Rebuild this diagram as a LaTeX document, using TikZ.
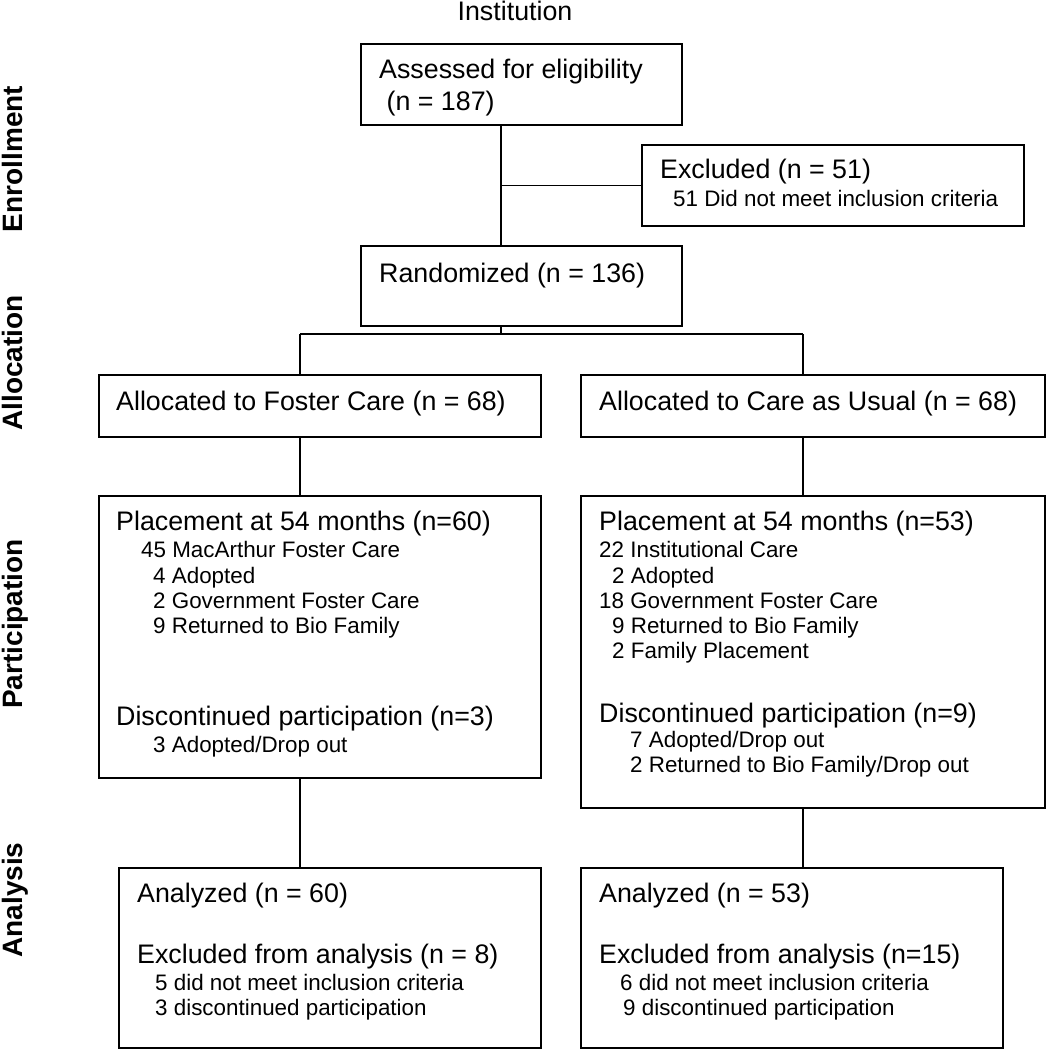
\documentclass[tikz,border=0pt]{standalone}
\usepackage{fontspec}
\setmainfont{Liberation Sans}
\begin{document}
\begin{tikzpicture}[x=1pt,y=-1pt,
  box/.style={draw=black, line width=1.5pt, rectangle, inner sep=0pt},
  conn/.style={draw=black, line width=1.2pt},
  maintxt/.style={anchor=base west, inner sep=0pt, font=\fontsize{26.8}{32}\selectfont},
  subtxt/.style={anchor=base west, inner sep=0pt, font=\fontsize{22.4}{27}\selectfont},
  phase/.style={anchor=base, inner sep=0pt, rotate=90, font=\fontsize{28}{32}\selectfont\bfseries}]
\useasboundingbox[fill=white] (0,0) rectangle (1046,1050);

% boxes
\node[box, minimum width=321pt, minimum height=81pt] (assess) at (521.5,84.5) {};
\node[box, minimum width=382pt, minimum height=81pt] (excl) at (833,185.5) {};
\node[box, minimum width=321pt, minimum height=80pt] (rand) at (521.5,286) {};
\node[box, minimum width=442pt, minimum height=62pt] (allocL) at (320,406) {};
\node[box, minimum width=464pt, minimum height=62pt] (allocR) at (813,406) {};
\node[box, minimum width=442pt, minimum height=282pt] (placeL) at (320,637) {};
\node[box, minimum width=464pt, minimum height=312pt] (placeR) at (813,652) {};
\node[box, minimum width=422pt, minimum height=180pt] (anaL) at (330,958) {};
\node[box, minimum width=422pt, minimum height=180pt] (anaR) at (792,958) {};

% connector junctions
\coordinate (jx) at (501,185.5);
\coordinate (jr) at (501,334);
\coordinate (jl) at (300,334);
\coordinate (jrr) at (803,334);

\draw[conn] (assess.south -| jx) -- (rand.north -| jx);
\draw[conn] (jx) -- (excl.west |- jx);
\draw[conn] (rand.south -| jr) -- (jr);
\draw[conn] (jl) -- (jrr);
\draw[conn] (jl) -- (allocL.north -| jl);
\draw[conn] (jrr) -- (allocR.north -| jrr);
\draw[conn] (allocL.south -| jl) -- (placeL.north -| jl);
\draw[conn] (allocR.south -| jrr) -- (placeR.north -| jrr);
\draw[conn] (placeL.south -| jl) -- (anaL.north -| jl);
\draw[conn] (placeR.south -| jrr) -- (anaR.north -| jrr);

% header and phase labels
\node[anchor=base, inner sep=0pt, font=\fontsize{26.8}{32}\selectfont] (inst) at (515,20) {Institution};
\node[phase] (ph1) at (22,159) {Enrollment};
\node[phase] (ph2) at (22,363) {Allocation};
\node[phase] (ph3) at (22,624) {Participation};
\node[phase] (ph4) at (22,900) {Analysis};

% texts
\node[maintxt] (t1) at (379,78) {Assessed for eligibility};
\node[maintxt] (t2) at (379,110) {\ (n = 187)};
\node[maintxt] (t3) at (660,178) {Excluded (n = 51)};
\node[subtxt] (t4) at (673,206) {51 Did not meet inclusion criteria};
\node[maintxt] (t5) at (379,282) {Randomized (n = 136)};
\node[maintxt] (t6) at (116,410) {Allocated to Foster Care (n = 68)};
\node[maintxt] (t7) at (599,410) {Allocated to Care as Usual (n = 68)};

\node[maintxt] (t8) at (116,530) {Placement at 54 months (n=60)};
\node[subtxt] (t9) at (141,557) {45 MacArthur Foster Care};
\node[subtxt] (t10) at (153,583) {4 Adopted};
\node[subtxt] (t11) at (153,608) {2 Government Foster Care};
\node[subtxt] (t12) at (153,633) {9 Returned to Bio Family};
\node[maintxt] (t13) at (116,725) {Discontinued participation (n=3)};
\node[subtxt] (t14) at (153,752) {3 Adopted/Drop out};

\node[maintxt] (t15) at (599,530) {Placement at 54 months (n=53)};
\node[subtxt] (t16) at (599,557) {22 Institutional Care};
\node[subtxt] (t17) at (612,583) {2 Adopted};
\node[subtxt] (t18) at (599,608) {18 Government Foster Care};
\node[subtxt] (t19) at (612,633) {9 Returned to Bio Family};
\node[subtxt] (t20) at (612,658) {2 Family Placement};
\node[maintxt] (t21) at (599,722) {Discontinued participation (n=9)};
\node[subtxt] (t22) at (630,747) {7 Adopted/Drop out};
\node[subtxt] (t23) at (630,772) {2 Returned to Bio Family/Drop out};

\node[maintxt] (t24) at (137,902) {Analyzed (n = 60)};
\node[maintxt] (t25) at (137,963) {Excluded from analysis (n = 8)};
\node[subtxt] (t26) at (155,990) {5 did not meet inclusion criteria};
\node[subtxt] (t27) at (155,1015) {3 discontinued participation};

\node[maintxt] (t28) at (599,902) {Analyzed (n = 53)};
\node[maintxt] (t29) at (599,963) {Excluded from analysis (n=15)};
\node[subtxt] (t30) at (620,990) {6 did not meet inclusion criteria};
\node[subtxt] (t31) at (623,1015) {9 discontinued participation};
\end{tikzpicture}
\end{document}
